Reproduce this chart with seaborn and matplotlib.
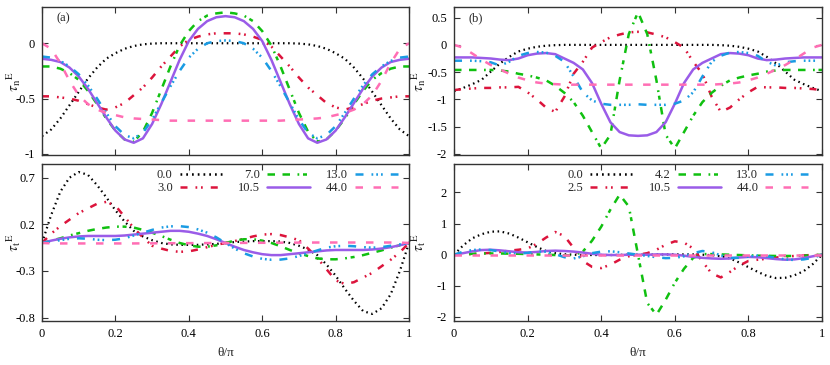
import numpy as np
import pandas as pd
import matplotlib
matplotlib.use('Agg')
import matplotlib.pyplot as plt
import seaborn as sns

# theta/pi sampling grid
theta = np.linspace(0, 1, 41)

cases_a = ['0.0', '3.0', '7.0', '10.5', '13.0', '44.0']
cases_b = ['0.0', '2.5', '4.2', '10.5', '13.0', '44.0']

x_ticks = [0, 0.2, 0.4, 0.6, 0.8, 1]
x_ticklabels = ['0', '0.2', '0.4', '0.6', '0.8', '1']
an_ticks = [-1, -0.5, 0]
an_ticklabels = ['-1', '-0.5', '0']
bn_ticks = [-2, -1.5, -1, -0.5, 0, 0.5]
bn_ticklabels = ['-2', '-1.5', '-1', '-0.5', '0', '0.5']
at_ticks = [-0.8, -0.3, 0.2, 0.7]
at_ticklabels = ['-0.8', '-0.3', '0.2', '0.7']
bt_ticks = [-2, -1, 0, 1, 2]
bt_ticklabels = ['-2', '-1', '0', '1', '2']

# ---- panel (a), normal component ----
an_00 = [-0.84, -0.78, -0.68, -0.56, -0.44, -0.32, -0.22, -0.14, -0.09, -0.05, -0.025,
         -0.01, -0.003, 0, 0, 0, 0, 0, 0, 0, 0,
         0, 0, 0, 0, 0, 0, 0, -0.003, -0.01, -0.025,
         -0.05, -0.09, -0.14, -0.22, -0.32, -0.44, -0.56, -0.68, -0.78, -0.84]
an_30 = [-0.48, -0.48, -0.49, -0.50, -0.52, -0.55, -0.58, -0.60, -0.58, -0.54, -0.47,
         -0.40, -0.31, -0.21, -0.12, -0.03, 0.03, 0.06, 0.08, 0.09, 0.09,
         0.09, 0.08, 0.06, 0.03, -0.03, -0.12, -0.21, -0.31, -0.40, -0.47,
         -0.54, -0.58, -0.60, -0.58, -0.55, -0.52, -0.50, -0.49, -0.48, -0.48]
an_70 = [-0.21, -0.21, -0.23, -0.27, -0.33, -0.43, -0.55, -0.68, -0.79, -0.87, -0.89,
         -0.80, -0.63, -0.42, -0.21, -0.02, 0.11, 0.20, 0.25, 0.27, 0.28,
         0.27, 0.25, 0.20, 0.11, -0.02, -0.21, -0.42, -0.63, -0.80, -0.89,
         -0.87, -0.79, -0.68, -0.55, -0.43, -0.33, -0.27, -0.23, -0.21, -0.21]
an_105 = [-0.14, -0.15, -0.17, -0.22, -0.30, -0.41, -0.54, -0.67, -0.79, -0.87, -0.90,
          -0.86, -0.73, -0.55, -0.35, -0.15, 0.02, 0.13, 0.20, 0.235, 0.245,
          0.235, 0.20, 0.13, 0.02, -0.15, -0.35, -0.55, -0.73, -0.86, -0.90,
          -0.87, -0.79, -0.67, -0.54, -0.41, -0.30, -0.22, -0.17, -0.15, -0.14]
an_130 = [-0.12, -0.13, -0.16, -0.21, -0.28, -0.38, -0.50, -0.63, -0.75, -0.83, -0.86,
          -0.81, -0.69, -0.54, -0.39, -0.25, -0.13, -0.05, 0.0, 0.02, 0.025,
          0.02, 0.0, -0.05, -0.13, -0.25, -0.39, -0.54, -0.69, -0.81, -0.86,
          -0.83, -0.75, -0.63, -0.50, -0.38, -0.28, -0.21, -0.16, -0.13, -0.12]
an_440 = [0.0, -0.05, -0.18, -0.34, -0.47, -0.55, -0.60, -0.63, -0.65, -0.67, -0.68,
          -0.685, -0.69, -0.695, -0.70, -0.70, -0.70, -0.70, -0.70, -0.70, -0.70,
          -0.70, -0.70, -0.70, -0.70, -0.70, -0.70, -0.695, -0.69, -0.685, -0.68,
          -0.67, -0.65, -0.63, -0.60, -0.55, -0.47, -0.34, -0.18, -0.05, 0.0]

# ---- panel (b), normal component ----
bn_00 = [-0.85, -0.79, -0.72, -0.64, -0.49, -0.34, -0.22, -0.12, -0.07, -0.035, -0.015,
         -0.005, 0, 0, 0, 0, 0, 0, 0, 0, 0,
         0, 0, 0, 0, 0, 0, 0, 0, -0.005, -0.015,
         -0.035, -0.07, -0.12, -0.22, -0.34, -0.49, -0.64, -0.72, -0.79, -0.85]
bn_25 = [-0.83, -0.81, -0.80, -0.79, -0.79, -0.78, -0.78, -0.77, -0.87, -1.00, -1.15,
         -1.23, -0.95, -0.53, -0.31, -0.05, 0.05, 0.14, 0.19, 0.23, 0.24,
         0.23, 0.19, 0.14, 0.05, -0.05, -0.31, -0.53, -0.95, -1.23, -1.15,
         -1.00, -0.87, -0.77, -0.78, -0.78, -0.79, -0.79, -0.80, -0.81, -0.83]
bn_42 = [-0.46, -0.46, -0.46, -0.46, -0.46, -0.47, -0.49, -0.53, -0.56, -0.60, -0.65,
         -0.75, -0.88, -1.05, -1.30, -1.60, -1.90, -1.65, -0.65, 0.20, 0.60,
         0.20, -0.65, -1.65, -1.90, -1.60, -1.30, -1.05, -0.88, -0.75, -0.65,
         -0.60, -0.56, -0.53, -0.49, -0.47, -0.46, -0.46, -0.46, -0.46, -0.46]
bn_105 = [-0.23, -0.23, -0.23, -0.24, -0.25, -0.27, -0.28, -0.25, -0.19, -0.16, -0.15,
          -0.17, -0.25, -0.33, -0.45, -0.70, -1.08, -1.42, -1.60, -1.66, -1.67,
          -1.66, -1.60, -1.42, -1.08, -0.70, -0.45, -0.33, -0.25, -0.17, -0.15,
          -0.16, -0.19, -0.25, -0.28, -0.27, -0.25, -0.24, -0.23, -0.23, -0.23]
bn_130 = [-0.29, -0.29, -0.29, -0.30, -0.32, -0.38, -0.31, -0.20, -0.15, -0.13, -0.14,
          -0.20, -0.31, -0.58, -0.87, -1.02, -1.08, -1.10, -1.10, -1.10, -1.09,
          -1.10, -1.10, -1.10, -1.08, -1.02, -0.87, -0.58, -0.31, -0.20, -0.14,
          -0.13, -0.15, -0.20, -0.31, -0.38, -0.32, -0.30, -0.29, -0.29, -0.29]
bn_440 = [0.0, -0.05, -0.16, -0.27, -0.37, -0.45, -0.53, -0.60, -0.65, -0.69, -0.71,
          -0.72, -0.73, -0.73, -0.73, -0.73, -0.73, -0.73, -0.73, -0.73, -0.73,
          -0.73, -0.73, -0.73, -0.73, -0.73, -0.73, -0.73, -0.73, -0.72, -0.71,
          -0.69, -0.65, -0.60, -0.53, -0.45, -0.37, -0.27, -0.16, -0.05, 0.0]

# ---- panel (a), tangential component ----
at_00 = [0.0, 0.30, 0.55, 0.70, 0.76, 0.73, 0.62, 0.49, 0.35, 0.23, 0.13,
         0.07, 0.03, 0.0, -0.015, -0.02, -0.02, -0.02, -0.015, -0.01, 0.0,
         0.01, 0.015, 0.02, 0.02, 0.02, 0.015, 0.0, -0.03, -0.07, -0.13,
         -0.23, -0.35, -0.49, -0.62, -0.73, -0.76, -0.70, -0.55, -0.30, 0.0]
at_30 = [0.0, 0.10, 0.18, 0.25, 0.32, 0.37, 0.42, 0.44, 0.40, 0.28, 0.16,
         0.06, -0.03, -0.06, -0.085, -0.095, -0.09, -0.07, -0.045, -0.02, 0.0,
         0.02, 0.045, 0.07, 0.09, 0.095, 0.085, 0.06, 0.03, -0.06, -0.16,
         -0.28, -0.40, -0.44, -0.42, -0.37, -0.32, -0.25, -0.18, -0.10, 0.0]
at_70 = [0.0, 0.025, 0.05, 0.08, 0.105, 0.13, 0.15, 0.165, 0.175, 0.175, 0.165,
         0.14, 0.11, 0.075, 0.035, 0.0, -0.025, -0.04, -0.04, -0.025, 0.0,
         0.025, 0.04, 0.04, 0.025, 0.0, -0.035, -0.075, -0.11, -0.14, -0.165,
         -0.175, -0.175, -0.165, -0.15, -0.13, -0.105, -0.08, -0.05, -0.025, 0.0]
at_105 = [0.0, 0.025, 0.045, 0.06, 0.07, 0.075, 0.075, 0.075, 0.075, 0.08, 0.09,
          0.10, 0.11, 0.12, 0.13, 0.13, 0.12, 0.10, 0.075, 0.04, 0.0,
          -0.04, -0.075, -0.10, -0.12, -0.13, -0.13, -0.12, -0.11, -0.10, -0.09,
          -0.08, -0.075, -0.075, -0.075, -0.075, -0.07, -0.06, -0.045, -0.025, 0.0]
at_130 = [0.0, 0.015, 0.03, 0.045, 0.05, 0.045, 0.035, 0.03, 0.035, 0.05, 0.08,
          0.11, 0.14, 0.165, 0.178, 0.18, 0.17, 0.145, 0.11, 0.06, 0.0,
          -0.06, -0.11, -0.145, -0.17, -0.18, -0.178, -0.165, -0.14, -0.11, -0.08,
          -0.05, -0.035, -0.03, -0.035, -0.045, -0.05, -0.045, -0.03, -0.015, 0.0]
at_440 = [0.0, -0.004, -0.005, -0.005, -0.005, -0.005, -0.005, -0.005, -0.005, -0.005, -0.005,
          -0.004, -0.004, -0.003, -0.003, -0.002, -0.002, -0.001, -0.001, 0.0, 0.0,
          0.0, 0.001, 0.001, 0.002, 0.002, 0.003, 0.003, 0.004, 0.004, 0.005,
          0.005, 0.005, 0.005, 0.005, 0.005, 0.005, 0.005, 0.005, 0.004, 0.0]

# ---- panel (b), tangential component ----
bt_00 = [0.0, 0.30, 0.53, 0.66, 0.74, 0.75, 0.68, 0.55, 0.40, 0.25, 0.12,
         0.05, 0.015, 0.0, -0.01, -0.01, -0.01, -0.01, -0.005, 0.0, 0.0,
         0.0, 0.005, 0.01, 0.01, 0.01, 0.01, 0.0, -0.015, -0.05, -0.12,
         -0.25, -0.40, -0.55, -0.68, -0.75, -0.74, -0.66, -0.53, -0.30, 0.0]
bt_25 = [0.0, 0.01, 0.02, 0.04, 0.06, 0.09, 0.13, 0.16, 0.20, 0.35, 0.55,
         0.73, 0.60, 0.22, -0.20, -0.39, -0.43, -0.32, -0.16, -0.05, 0.0,
         0.05, 0.16, 0.32, 0.43, 0.39, 0.20, -0.22, -0.60, -0.73, -0.55,
         -0.35, -0.20, -0.16, -0.13, -0.09, -0.06, -0.04, -0.02, -0.01, 0.0]
bt_42 = [0.0, 0.02, 0.03, 0.04, 0.04, 0.04, 0.035, 0.03, 0.02, 0.01, 0.0,
         -0.01, -0.02, -0.02, 0.10, 0.45, 0.90, 1.45, 1.93, 1.55, 0.0,
         -1.55, -1.93, -1.45, -0.90, -0.45, -0.10, 0.02, 0.02, 0.01, 0.0,
         -0.01, -0.02, -0.03, -0.035, -0.04, -0.04, -0.04, -0.03, -0.02, 0.0]
bt_105 = [0.0, 0.05, 0.11, 0.15, 0.16, 0.14, 0.11, 0.08, 0.07, 0.09, 0.12,
          0.13, 0.12, 0.10, 0.07, 0.03, 0.0, -0.01, -0.01, 0.0, 0.0,
          0.0, 0.01, 0.01, 0.0, -0.03, -0.07, -0.10, -0.12, -0.13, -0.12,
          -0.09, -0.07, -0.08, -0.11, -0.14, -0.16, -0.15, -0.11, -0.05, 0.0]
bt_130 = [0.0, 0.10, 0.15, 0.17, 0.15, 0.10, 0.05, 0.03, 0.06, 0.10, 0.10,
          0.02, -0.08, -0.12, -0.05, 0.05, 0.10, 0.11, 0.08, 0.04, 0.0,
          -0.04, -0.08, -0.11, -0.10, -0.05, 0.05, 0.12, 0.08, -0.02, -0.10,
          -0.10, -0.06, -0.03, -0.05, -0.10, -0.15, -0.17, -0.15, -0.10, 0.0]
bt_440 = [0.0, 0.0, 0.0, 0.0, 0.0, 0.0, 0.0, 0.0, 0.0, 0.0, 0.0,
          0.0, 0.0, 0.0, 0.0, 0.0, 0.0, 0.0, 0.0, 0.0, 0.0,
          0.0, 0.0, 0.0, 0.0, 0.0, 0.0, 0.0, 0.0, 0.0, 0.0,
          0.0, 0.0, 0.0, 0.0, 0.0, 0.0, 0.0, 0.0, 0.0, 0.0]

colors = ['#000000', '#dc143c', '#10c010', '#9a5ce8', '#1a9be3', '#ff6eb4']
dash_styles = [(0.7, 1.6), (2.8, 3.2, 0.7, 1.5, 0.7, 3.2), (3, 3, 3, 3, 0.7, 1.5, 1.6, 3),
               '', (3.2, 3.2, 0.7, 1.2, 0.7, 1.2, 0.7, 3.2), (3, 4.2)]
line_widths = [1.6, 1.8, 1.8, 1.8, 1.8, 1.8]

sns.set_theme(style='ticks')
plt.rcParams['font.family'] = ['Liberation Serif', 'DejaVu Serif']
plt.rcParams['mathtext.fontset'] = 'stix'
plt.rcParams['axes.unicode_minus'] = False


def make_frame(cases, series):
    parts = []
    for name, vals in zip(cases, series):
        parts.append(pd.DataFrame({'theta': theta, 'val': vals, 'case': name}))
    return pd.concat(parts, ignore_index=True)


def draw_panel(ax, cases, series, ylim, yticks, yticklabels, ylabel, bottom, legend_x=None):
    df = make_frame(cases, series)
    pal = dict(zip(cases, colors))
    dsh = dict(zip(cases, dash_styles))
    show_legend = legend_x is not None
    sns.lineplot(data=df, x='theta', y='val', hue='case', style='case',
                 hue_order=cases, style_order=cases, palette=pal, dashes=dsh,
                 errorbar=None, sort=False, linewidth=1.8, ax=ax, legend=show_legend)
    for line, lw in zip(ax.get_lines(), line_widths):
        line.set_linewidth(lw)
        line.set_dash_capstyle('butt')
    ax.set_xlim(0, 1)
    ax.set_ylim(*ylim)
    ax.set_xticks(x_ticks)
    ax.set_yticks(yticks)
    ax.set_yticklabels(yticklabels)
    ax.tick_params(direction='in', top=True, right=True, length=4, width=0.8,
                   labelsize=9, pad=5, colors='#333333', labelcolor='black')
    for sp in ax.spines.values():
        sp.set_color('#333333')
        sp.set_linewidth(1.0)
        sp.set_visible(True)
    if bottom:
        ax.set_xticklabels(x_ticklabels)
        ax.set_xlabel('θ/π', fontsize=9.5, labelpad=5)
    else:
        ax.set_xticklabels([])
        ax.set_xlabel('')
    ax.set_ylabel(ylabel, fontsize=11)
    if show_legend:
        handles, labels = ax.get_legend_handles_labels()
        ax.legend(handles, labels, ncol=3, markerfirst=False, frameon=False,
                  loc='upper right', bbox_to_anchor=(legend_x, 1.03), fontsize=9,
                  handlelength=3.45, handletextpad=0.55, columnspacing=1.25,
                  labelspacing=0.05, borderpad=0.3)


fig = plt.figure(figsize=(8.3, 3.65), dpi=100)
ax_an = fig.add_axes([0.0506, 0.5740, 0.4422, 0.4075])
ax_at = fig.add_axes([0.0506, 0.1205, 0.4422, 0.4302])
ax_bn = fig.add_axes([0.5470, 0.5740, 0.4434, 0.4075])
ax_bt = fig.add_axes([0.5470, 0.1205, 0.4434, 0.4302])

label_n = r'$\tau_{\mathrm{n}}{}^{\mathrm{E}}$'
label_t = r'$\tau_{\mathrm{t}}{}^{\mathrm{E}}$'

draw_panel(ax_an, cases_a, [an_00, an_30, an_70, an_105, an_130, an_440],
           (-1.015, 0.33), an_ticks, an_ticklabels, label_n, False)
draw_panel(ax_at, cases_a, [at_00, at_30, at_70, at_105, at_130, at_440],
           (-0.836, 0.846), at_ticks, at_ticklabels, label_t, True, legend_x=0.997)
draw_panel(ax_bn, cases_b, [bn_00, bn_25, bn_42, bn_105, bn_130, bn_440],
           (-2.03, 0.70), bn_ticks, bn_ticklabels, label_n, False)
draw_panel(ax_bt, cases_b, [bt_00, bt_25, bt_42, bt_105, bt_130, bt_440],
           (-2.13, 2.915), bt_ticks, bt_ticklabels, label_t, True, legend_x=0.99)

ax_an.yaxis.set_label_coords(-0.052, 0.5)
ax_at.yaxis.set_label_coords(-0.052, 0.5)
ax_bn.yaxis.set_label_coords(-0.07, 0.5)
ax_bt.yaxis.set_label_coords(-0.07, 0.5)

ax_an.text(0.04, 0.925, '(a)', transform=ax_an.transAxes, fontsize=9, va='center')
ax_bn.text(0.04, 0.925, '(b)', transform=ax_bn.transAxes, fontsize=9, va='center')

fig.savefig('out.png', dpi=100)
